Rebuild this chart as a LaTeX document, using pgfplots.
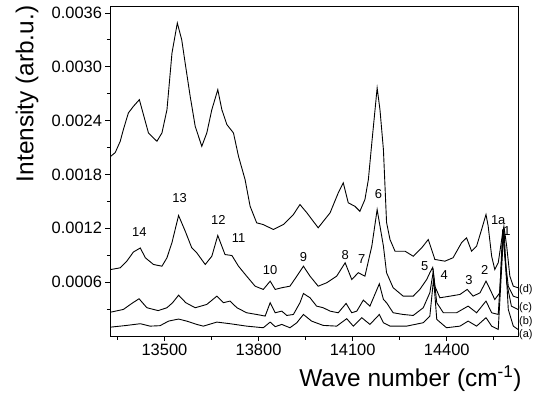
\documentclass[border=0pt]{standalone}
\usepackage{fontspec}
\setmainfont{Liberation Sans}
\usepackage{pgfplots}
\pgfplotsset{compat=1.18}
\begin{document}
\begin{tikzpicture}
\begin{axis}[
  scale only axis, width=407.5bp, height=329.3bp,
  xmin=13328, xmax=14627, ymin=0, ymax=0.00367,
  tick pos=left, tick align=outside,
  xtick={13500,13800,14100,14400},
  minor xtick={13350,13650,13950,14250,14550},
  ytick={0.0006,0.0012,0.0018,0.0024,0.0030,0.0036},
  minor ytick={0.0003,0.0009,0.0015,0.0021,0.0027,0.0033},
  scaled x ticks=false, scaled y ticks=false,
  /pgf/number format/assume math mode=true,
  xticklabel style={/pgf/number format/set thousands separator={}},
  yticklabel style={/pgf/number format/.cd, fixed, fixed zerofill, precision=4},
  tick label style={font=\fontsize{16.5}{19}\selectfont},
  major tick length=5bp, minor tick length=3.5bp,
  every tick/.style={black, line width=0.9pt},
  axis line style={line width=1pt},
  clip=false,
  xlabel={Wave number (cm\textsuperscript{-1})},
  ylabel={Intensity (arb.u.)},
  xlabel style={at={(axis description cs:0.736,-0.13)}, anchor=center, font=\fontsize{24.5}{28}\selectfont},
  ylabel style={at={(axis description cs:-0.205,0.735)}, anchor=center, font=\fontsize{24.5}{28}\selectfont},
]
% (d)
\addplot[black, line width=0.9pt] coordinates {
(13329,0.002003) (13343,0.002044) (13359,0.002170) (13369,0.002300) (13385,0.002486)
(13401,0.002559) (13420,0.002634) (13433,0.002467) (13449,0.002263) (13476,0.002170)
(13492,0.002263) (13508,0.002522) (13524,0.003154) (13541,0.003488) (13555,0.003302)
(13566,0.003042) (13582,0.002671) (13598,0.002337) (13619,0.002114) (13635,0.002263)
(13651,0.002522) (13670,0.002745) (13683,0.002522) (13699,0.002356) (13720,0.002263)
(13736,0.002003) (13757,0.001743) (13773,0.001446) (13794,0.001261) (13815,0.001242)
(13847,0.001187) (13879,0.001242) (13911,0.001354) (13932,0.001465) (13954,0.001373)
(13990,0.001206) (14028,0.001373) (14054,0.001595) (14070,0.001707) (14086,0.001484)
(14107,0.001446) (14123,0.001390) (14139,0.001521) (14150,0.001743) (14162,0.002189)
(14178,0.002764) (14187,0.002522) (14198,0.002077) (14208,0.001265) (14219,0.001075)
(14235,0.000945) (14267,0.000945) (14293,0.000889) (14320,0.000983) (14341,0.001075)
(14362,0.000853) (14394,0.000834) (14420,0.000872) (14447,0.001039) (14463,0.001094)
(14479,0.000945) (14495,0.001001) (14511,0.001187) (14525,0.001354) (14532,0.001223)
(14543,0.000889) (14553,0.000741) (14564,0.000816) (14575,0.001075) (14582,0.001223)
(14591,0.001001) (14601,0.000667) (14612,0.000555) (14627,0.000538)
};
% (c)
\addplot[black, line width=0.9pt] coordinates {
(13329,0.000741) (13359,0.000760) (13380,0.000834) (13401,0.000936) (13423,0.000981)
(13439,0.000872) (13465,0.000797) (13492,0.000778) (13508,0.000872) (13524,0.001042)
(13545,0.001343) (13566,0.001170) (13587,0.000983) (13603,0.000927) (13630,0.000797)
(13651,0.000889) (13670,0.001120) (13693,0.000908) (13715,0.000897) (13736,0.000778)
(13762,0.000667) (13789,0.000555) (13815,0.000519) (13837,0.000611) (13853,0.000519)
(13874,0.000538) (13900,0.000555) (13922,0.000667) (13943,0.000778) (13964,0.000667)
(13990,0.000555) (14017,0.000593) (14049,0.000667) (14076,0.000816) (14097,0.000630)
(14118,0.000705) (14139,0.000667) (14161,0.001001) (14178,0.001409) (14198,0.001001)
(14208,0.000705) (14229,0.000538) (14261,0.000444) (14293,0.000444) (14314,0.000519)
(14336,0.000630) (14346,0.000705) (14355,0.000764) (14362,0.000555) (14378,0.000426)
(14410,0.000444) (14442,0.000463) (14465,0.000519) (14484,0.000444) (14506,0.000482)
(14525,0.000611) (14538,0.000519) (14553,0.000407) (14569,0.000482) (14578,0.001187)
(14585,0.000889) (14596,0.000555) (14612,0.000444) (14627,0.000426)
};
% (b)
\addplot[black, line width=0.9pt] coordinates {
(13329,0.000266) (13369,0.000296) (13396,0.000363) (13419,0.000415) (13444,0.000315)
(13480,0.000283) (13508,0.000315) (13526,0.000371) (13545,0.000455) (13568,0.000371)
(13598,0.000315) (13635,0.000352) (13667,0.000444) (13688,0.000371) (13709,0.000389)
(13731,0.000315) (13762,0.000259) (13794,0.000240) (13821,0.000222) (13837,0.000371)
(13853,0.000259) (13874,0.000277) (13890,0.000229) (13911,0.000240) (13932,0.000371)
(13943,0.000474) (13964,0.000426) (13985,0.000333) (14006,0.000315) (14028,0.000277)
(14054,0.000259) (14079,0.000363) (14097,0.000259) (14113,0.000277) (14134,0.000400)
(14155,0.000333) (14185,0.000582) (14198,0.000407) (14208,0.000371) (14229,0.000259)
(14261,0.000240) (14293,0.000229) (14325,0.000315) (14346,0.000482) (14357,0.000722)
(14368,0.000371) (14389,0.000259) (14431,0.000259) (14468,0.000333) (14495,0.000259)
(14525,0.000389) (14543,0.000259) (14564,0.000240) (14580,0.001150) (14591,0.000593)
(14606,0.000333) (14627,0.000296)
};
% (a)
\addplot[black, line width=0.9pt] coordinates {
(13329,0.000099) (13380,0.000118) (13423,0.000137) (13454,0.000110) (13486,0.000115)
(13513,0.000166) (13545,0.000189) (13571,0.000166) (13603,0.000129) (13624,0.000110)
(13667,0.000155) (13709,0.000137) (13762,0.000110) (13815,0.000092) (13837,0.000155)
(13853,0.000104) (13874,0.000129) (13900,0.000092) (13922,0.000148) (13943,0.000240)
(13969,0.000166) (14006,0.000118) (14049,0.000110) (14081,0.000193) (14102,0.000110)
(14129,0.000204) (14155,0.000129) (14185,0.000240) (14198,0.000148) (14219,0.000110)
(14272,0.000110) (14325,0.000148) (14346,0.000222) (14358,0.000641) (14368,0.000185)
(14399,0.000092) (14442,0.000110) (14468,0.000166) (14495,0.000110) (14525,0.000204)
(14543,0.000110) (14564,0.000073) (14582,0.001206) (14596,0.000296) (14612,0.000110)
(14627,0.000073)
};
\begin{scope}[every node/.style={font=\fontsize{13}{15}\selectfont, inner sep=0pt}]
\node at (axis cs:13420,0.001157) {14};
\node at (axis cs:13548,0.001532) {13};
\node at (axis cs:13672,0.001298) {12};
\node at (axis cs:13736,0.001094) {11};
\node at (axis cs:13837,0.000734) {10};
\node at (axis cs:13943,0.000878) {9};
\node at (axis cs:14076,0.000897) {8};
\node at (axis cs:14129,0.000861) {7};
\node at (axis cs:14182,0.001587) {6};
\node at (axis cs:14330,0.000778) {5};
\node at (axis cs:14392,0.000675) {4};
\node at (axis cs:14471,0.000622) {3};
\node at (axis cs:14521,0.000741) {2};
\node at (axis cs:14564,0.001290) {1a};
\node at (axis cs:14592,0.001168) {1};
\end{scope}
\begin{scope}[every node/.style={font=\fontsize{11}{13}\selectfont, inner sep=0pt, anchor=west}]
\node at (axis cs:14630,0.000519) {(d)};
\node at (axis cs:14630,0.000320) {(c)};
\node at (axis cs:14630,0.000160) {(b)};
\node at (axis cs:14630,0.000020) {(a)};
\end{scope}
\end{axis}
\pgfresetboundingbox
\useasboundingbox (-110.5bp,-62bp) rectangle (424.5bp,336bp);
\end{tikzpicture}
\end{document}
